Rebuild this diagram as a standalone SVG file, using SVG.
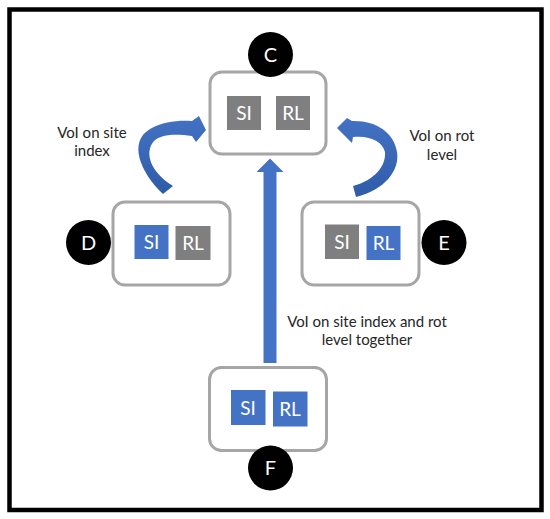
<svg xmlns="http://www.w3.org/2000/svg" width="550" height="519" viewBox="0 0 550 519">
<style>
.box{fill:#ffffff;stroke:#a6a6a6;stroke-width:3}
.g{fill:#7f7f7f}
.b{fill:#4472c4}
.sq{font-family:Lato,"Liberation Sans",sans-serif;font-size:19px;fill:#ffffff;text-anchor:middle}
.dot{fill:#000000}
.lt{font-family:Lato,"Liberation Sans",sans-serif;font-size:20px;fill:#ffffff;text-anchor:middle}
.lbl{font-family:Lato,"Liberation Sans",sans-serif;font-size:15px;fill:#262626;text-anchor:middle}
.arr{fill:#4472c4}
.carr{fill:url(#cg)}
</style>
<defs>
<linearGradient id="cg" x1="0" y1="0" x2="0" y2="1">
<stop offset="0" stop-color="#4472c4"/>
<stop offset="1" stop-color="#2f5ca8"/>
</linearGradient>
</defs>
<rect x="9.5" y="9.5" width="532" height="500.5" fill="#ffffff" stroke="#000000" stroke-width="4.5"/>
<g id="connectors">
<path class="carr" d="M163,194 C140,172 128,142 150,129 C164,121 180,120 192,121 L199,116 L206,130 L196,142 L192,136 C176,134 162,134 154,141 C144,152 150,172 173,186 Z"/>
<path class="carr" d="M356,197 C385,190 400,170 397,152 C394,132 375,120 352,121 L347,118 L337,128 L352,143 L353,137 C370,135 383,142 385,152 C386,166 375,180 353,186 Z"/>
<path class="arr" d="M263.5,363 L263.5,172 L256.5,172 L270,158.5 L283.5,172 L276.5,172 L276.5,363 Z"/>
</g>
<g id="node-C">
<rect class="box" x="210" y="72" width="116" height="82" rx="12"/>
<rect class="g" x="227" y="96" width="34" height="34"/>
<rect class="g" x="276" y="96" width="34" height="34"/>
<text class="sq" x="244" y="120">SI</text>
<text class="sq" x="293" y="120">RL</text>
<circle class="dot" cx="270.5" cy="54.5" r="22.5"/>
<text class="lt" x="270.5" y="61.5">C</text>
</g>
<g id="node-D">
<rect class="box" x="113" y="202" width="117" height="83" rx="12"/>
<rect class="b" x="134.5" y="225" width="34" height="34"/>
<rect class="g" x="175.5" y="226" width="35" height="34"/>
<text class="sq" x="151.5" y="249">SI</text>
<text class="sq" x="193" y="250">RL</text>
<circle class="dot" cx="88.5" cy="242.5" r="22.5"/>
<text class="lt" x="88.5" y="249.5">D</text>
</g>
<g id="node-E">
<rect class="box" x="302" y="202" width="117" height="83" rx="12"/>
<rect class="g" x="325" y="224.5" width="34" height="34.5"/>
<rect class="b" x="366.5" y="226" width="34" height="34"/>
<text class="sq" x="342" y="249">SI</text>
<text class="sq" x="383.5" y="250">RL</text>
<circle class="dot" cx="444" cy="242.5" r="22.5"/>
<text class="lt" x="444" y="249.5">E</text>
</g>
<g id="node-F">
<rect class="box" x="209.5" y="367.5" width="117" height="83" rx="12"/>
<rect class="b" x="231" y="390" width="34.5" height="35"/>
<rect class="b" x="273" y="391.5" width="34.5" height="35"/>
<text class="sq" x="248" y="414.5">SI</text>
<text class="sq" x="290" y="416">RL</text>
<circle class="dot" cx="270.5" cy="468" r="22.5"/>
<text class="lt" x="270.5" y="475">F</text>
</g>
<g id="labels">
<text class="lbl" x="92" y="137.5">VoI on site</text>
<text class="lbl" x="92" y="155.7">index</text>
<text class="lbl" x="442" y="140.7">VoI on rot</text>
<text class="lbl" x="442" y="159.7">level</text>
<text class="lbl" x="367" y="327.3">VoI on site index and rot</text>
<text class="lbl" x="367" y="345.3">level together</text>
</g>
</svg>
